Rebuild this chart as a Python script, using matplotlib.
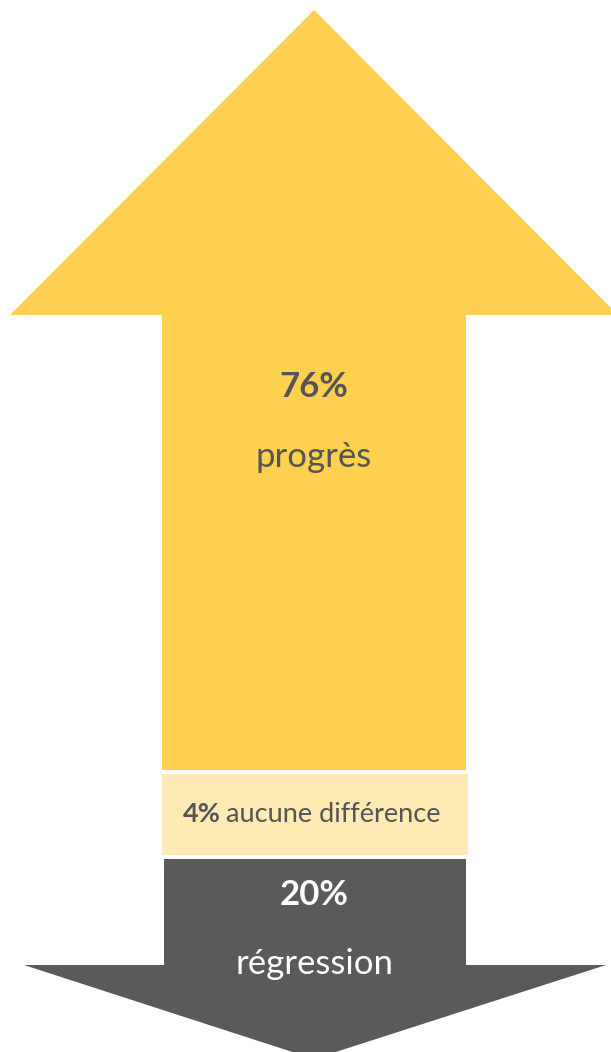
import matplotlib
matplotlib.use("Agg")
import matplotlib.pyplot as plt
from matplotlib.patches import Polygon, Rectangle

# Share of respondents by outcome
categories = ["progrès", "aucune différence", "régression"]
values = [76, 4, 20]
value_labels = ["76%", "4%", "20%"]

W, H = 611, 1052
fig = plt.figure(figsize=(W / 100, H / 100), dpi=100)
ax = fig.add_axes([0, 0, 1, 1])
ax.set_xlim(0, W)
ax.set_ylim(H, 0)
ax.axis("off")

plt.rcParams["font.family"] = ["Lato", "DejaVu Sans"]

YELLOW = "#FDD14F"
LIGHT = "#FFEAB4"
DARK = "#5A5A58"
TEXT = "#555555"

px_per_pct = 10.0         # arrow length per percentage point
cx = 314                  # centre line
shaft_half = 152
gap = 4

# --- up arrow (progress) ---
up_bottom = 770
up_len = values[0] * px_per_pct
up_top = up_bottom - up_len
head_h_up = 305
head_half_up = 304
up_pts = [
    (cx - shaft_half, up_bottom), (cx - shaft_half, up_top + head_h_up),
    (cx - head_half_up, up_top + head_h_up), (cx, up_top),
    (cx + head_half_up, up_top + head_h_up), (cx + shaft_half, up_top + head_h_up),
    (cx + shaft_half, up_bottom),
]
ax.add_patch(Polygon(up_pts, closed=True, facecolor=YELLOW, edgecolor="none"))

# --- neutral band ---
band_top = up_bottom + gap
band_h = max(values[1] * px_per_pct, 81)
ax.add_patch(Rectangle((cx - shaft_half, band_top), 2 * shaft_half + 2, band_h,
                       facecolor=LIGHT, edgecolor="none"))

# --- down arrow (regression) ---
down_top = band_top + band_h + gap
down_len = values[2] * px_per_pct
down_tip = down_top + down_len
head_h_dn = 94
head_half_dn = 290
dn_half = 150
down_pts = [
    (cx - dn_half, down_top), (cx + dn_half + 2, down_top),
    (cx + dn_half + 2, down_tip - head_h_dn), (cx + head_half_dn + 2, down_tip - head_h_dn),
    (cx, down_tip), (cx - head_half_dn, down_tip - head_h_dn),
    (cx - dn_half, down_tip - head_h_dn),
]
ax.add_patch(Polygon(down_pts, closed=True, facecolor=DARK, edgecolor="none"))

# --- labels ---
ax.text(cx, 387, value_labels[0], ha="center", va="center", fontsize=25,
        fontweight="bold", color=TEXT)
ax.text(cx, 457, categories[0], ha="center", va="center", fontsize=25, color=TEXT)

band_mid = band_top + band_h / 2
t1 = ax.text(183, band_mid, value_labels[1], ha="left", va="center",
             fontsize=19.5, fontweight="bold", color=TEXT)
fig.canvas.draw()
bb = t1.get_window_extent()
x_end = bb.x1 * W / fig.bbox.width
ax.text(x_end + 5, band_mid, categories[1], ha="left", va="center",
        fontsize=19.5, color=TEXT)

ax.text(cx, 895, value_labels[2], ha="center", va="center", fontsize=25,
        fontweight="bold", color="white")
ax.text(cx, 964, categories[2], ha="center", va="center", fontsize=25, color="white")

fig.savefig("out.png", dpi=100, facecolor="white")
